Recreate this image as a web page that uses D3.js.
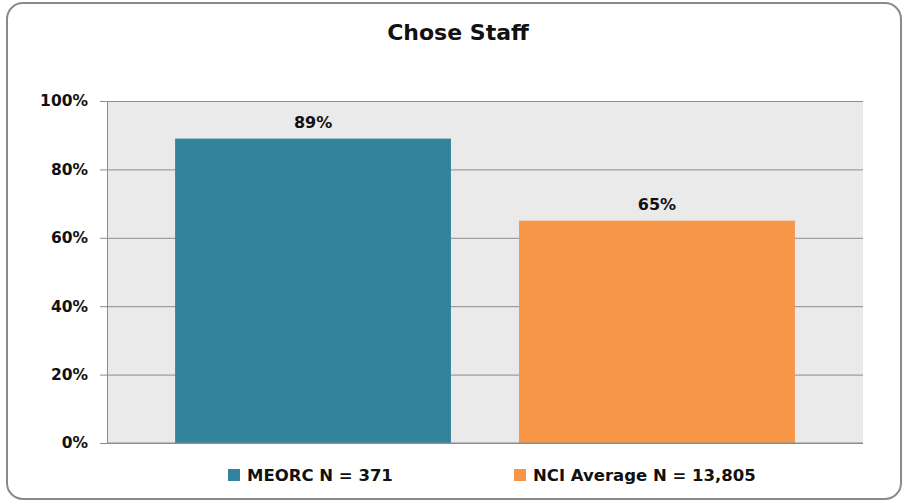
<!DOCTYPE html>
<html><head><meta charset="utf-8">
<script src="https://cdn.jsdelivr.net/npm/d3@7"></script>
<style>body{margin:0;background:#fff;}svg{display:block;font-family:"DejaVu Sans",sans-serif;}</style>
</head><body>
<svg id="c" width="903" height="502"></svg>
<script>
const title = "Chose Staff";
const series = ["MEORC N = 371", "NCI Average N = 13,805"];
const values = [89, 65];
const colors = ["#31849B", "#F79646"];
const yTicks = [0, 20, 40, 60, 80, 100];

const svg = d3.select("#c");
const m = {l:107, r:863, t:101, b:443};

svg.append("rect").attr("x",7).attr("y",3).attr("width",894).attr("height",496)
  .attr("rx",16).attr("fill","#fff").attr("stroke","#8a8a8a").attr("stroke-width",2);

const x = d3.scaleBand().domain(series).range([m.l, m.r]).paddingInner(0.198).paddingOuter(0.198);
const y = d3.scaleLinear().domain([0,100]).range([m.b, m.t]);

svg.append("rect").attr("x",m.l).attr("y",m.t).attr("width",m.r-m.l).attr("height",m.b-m.t).attr("fill","#EAEAEA");

const g = svg.append("g").attr("transform",`translate(${m.l},0)`);
g.call(d3.axisLeft(y).tickValues(yTicks).tickFormat(d=>d+"%").tickSize(-(m.r-m.l)).tickSizeOuter(0))
 .call(a=>a.select(".domain").attr("stroke","#8c8c8c"))
 .call(a=>a.selectAll(".tick line").attr("stroke","#8c8c8c").attr("x1",-7))
 .call(a=>a.selectAll(".tick text").attr("x",-19).attr("font-size",15.5).attr("font-weight","bold").attr("fill","#111").attr("font-family","'DejaVu Sans',sans-serif"));

svg.selectAll("rect.bar").data(values).enter().append("rect").attr("class","bar")
  .attr("x",(d,i)=>x(series[i])).attr("width",x.bandwidth())
  .attr("y",d=>y(d)).attr("height",d=>y(0)-y(d)).attr("fill",(d,i)=>colors[i]);

svg.selectAll("text.lab").data(values).enter().append("text").attr("class","lab")
  .attr("x",(d,i)=>x(series[i])+x.bandwidth()/2).attr("y",d=>y(d)-11)
  .attr("text-anchor","middle").attr("font-size",16).attr("font-weight","bold").attr("fill","#111")
  .text(d=>d+"%");

svg.append("line").attr("x1",m.l).attr("x2",m.r).attr("y1",m.b).attr("y2",m.b).attr("stroke","#8c8c8c");

svg.append("text").attr("x",458).attr("y",40).attr("text-anchor","middle")
  .attr("font-size",22).attr("font-weight","bold").attr("fill","#111").text(title);

const legX = [228, 514];
const lg = svg.selectAll("g.leg").data(series).enter().append("g").attr("class","leg")
  .attr("transform",(d,i)=>`translate(${legX[i]},469)`);
lg.append("rect").attr("width",12).attr("height",12).attr("fill",(d,i)=>colors[i]);
lg.append("text").attr("x",19).attr("y",12).attr("font-size",16.5).attr("font-weight","bold").attr("fill","#111").text(d=>d);
</script>
</body></html>
